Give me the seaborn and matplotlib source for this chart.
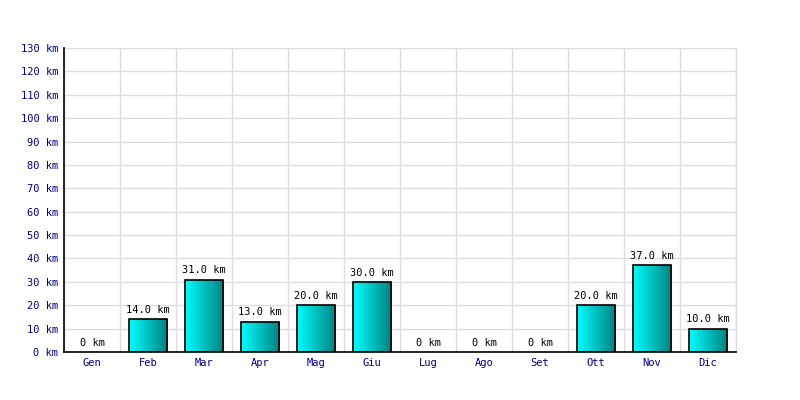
import numpy as np
import pandas as pd
import matplotlib
matplotlib.use("Agg")
import matplotlib.pyplot as plt
from matplotlib.colors import LinearSegmentedColormap
import seaborn as sns

# dati
mesi = ["Gen", "Feb", "Mar", "Apr", "Mag", "Giu", "Lug", "Ago", "Set", "Ott", "Nov", "Dic"]
km = [0, 14, 31, 13, 20, 30, 0, 0, 0, 20, 37, 10]
yticks = list(range(0, 131, 10))

df = pd.DataFrame({"mese": mesi, "km": km})

sns.set_theme(style="white")
plt.rcParams["font.family"] = ["DejaVu Sans Mono"]

fig = plt.figure(figsize=(8, 4), dpi=100)
ax = fig.add_axes([0.08, 0.12, 0.84, 0.76])

sns.barplot(data=df, x="mese", y="km", ax=ax, color="#00cccc",
            width=0.68, edgecolor="black", linewidth=1.2, zorder=3)

# gradiente ciano -> teal dentro ogni barra
cmap = LinearSegmentedColormap.from_list("g", ["#00ffff", "#008080"])
grad = np.linspace(0, 1, 256).reshape(1, -1)
for p in ax.patches:
    x0, y0 = p.get_x(), p.get_y()
    w, h = p.get_width(), p.get_height()
    if h <= 0:
        p.set_visible(False)
        continue
    im = ax.imshow(grad, cmap=cmap, aspect="auto", extent=[x0, x0 + w, y0, y0 + h],
                   zorder=3.5, interpolation="bilinear")
    im.set_clip_path(p)
    p.set_facecolor("none")
    p.set_zorder(4)

labels = [f"{v:.1f} km" if v > 0 else "0 km" for v in km]
ax.bar_label(ax.containers[0], labels=labels, padding=3, fontsize=7.5, color="black")

ax.set_xlim(-0.5, len(mesi) - 0.5)
ax.set_ylim(0, 130)
ax.set_yticks(yticks)
ax.set_yticklabels([f"{t} km" for t in yticks])
ax.set_xticks(np.arange(-0.5, len(mesi), 1), minor=True)
ax.tick_params(axis="both", which="both", length=0, labelsize=7.5, labelcolor="#000080", pad=4)
ax.grid(True, axis="y", which="major", color="#dddddd", linewidth=1, zorder=0)
ax.grid(True, axis="x", which="minor", color="#dddddd", linewidth=1, zorder=0)
ax.grid(False, axis="x", which="major")
ax.axvline(len(mesi) - 0.5, color="#dddddd", linewidth=1, zorder=0, clip_on=False)
ax.set_xlabel("")
ax.set_ylabel("")
for s in ["top", "right"]:
    ax.spines[s].set_visible(False)
for s in ["left", "bottom"]:
    ax.spines[s].set_color("black")
    ax.spines[s].set_linewidth(1.2)
    ax.spines[s].set_zorder(5)

fig.savefig("out.png", dpi=100, facecolor="white")
